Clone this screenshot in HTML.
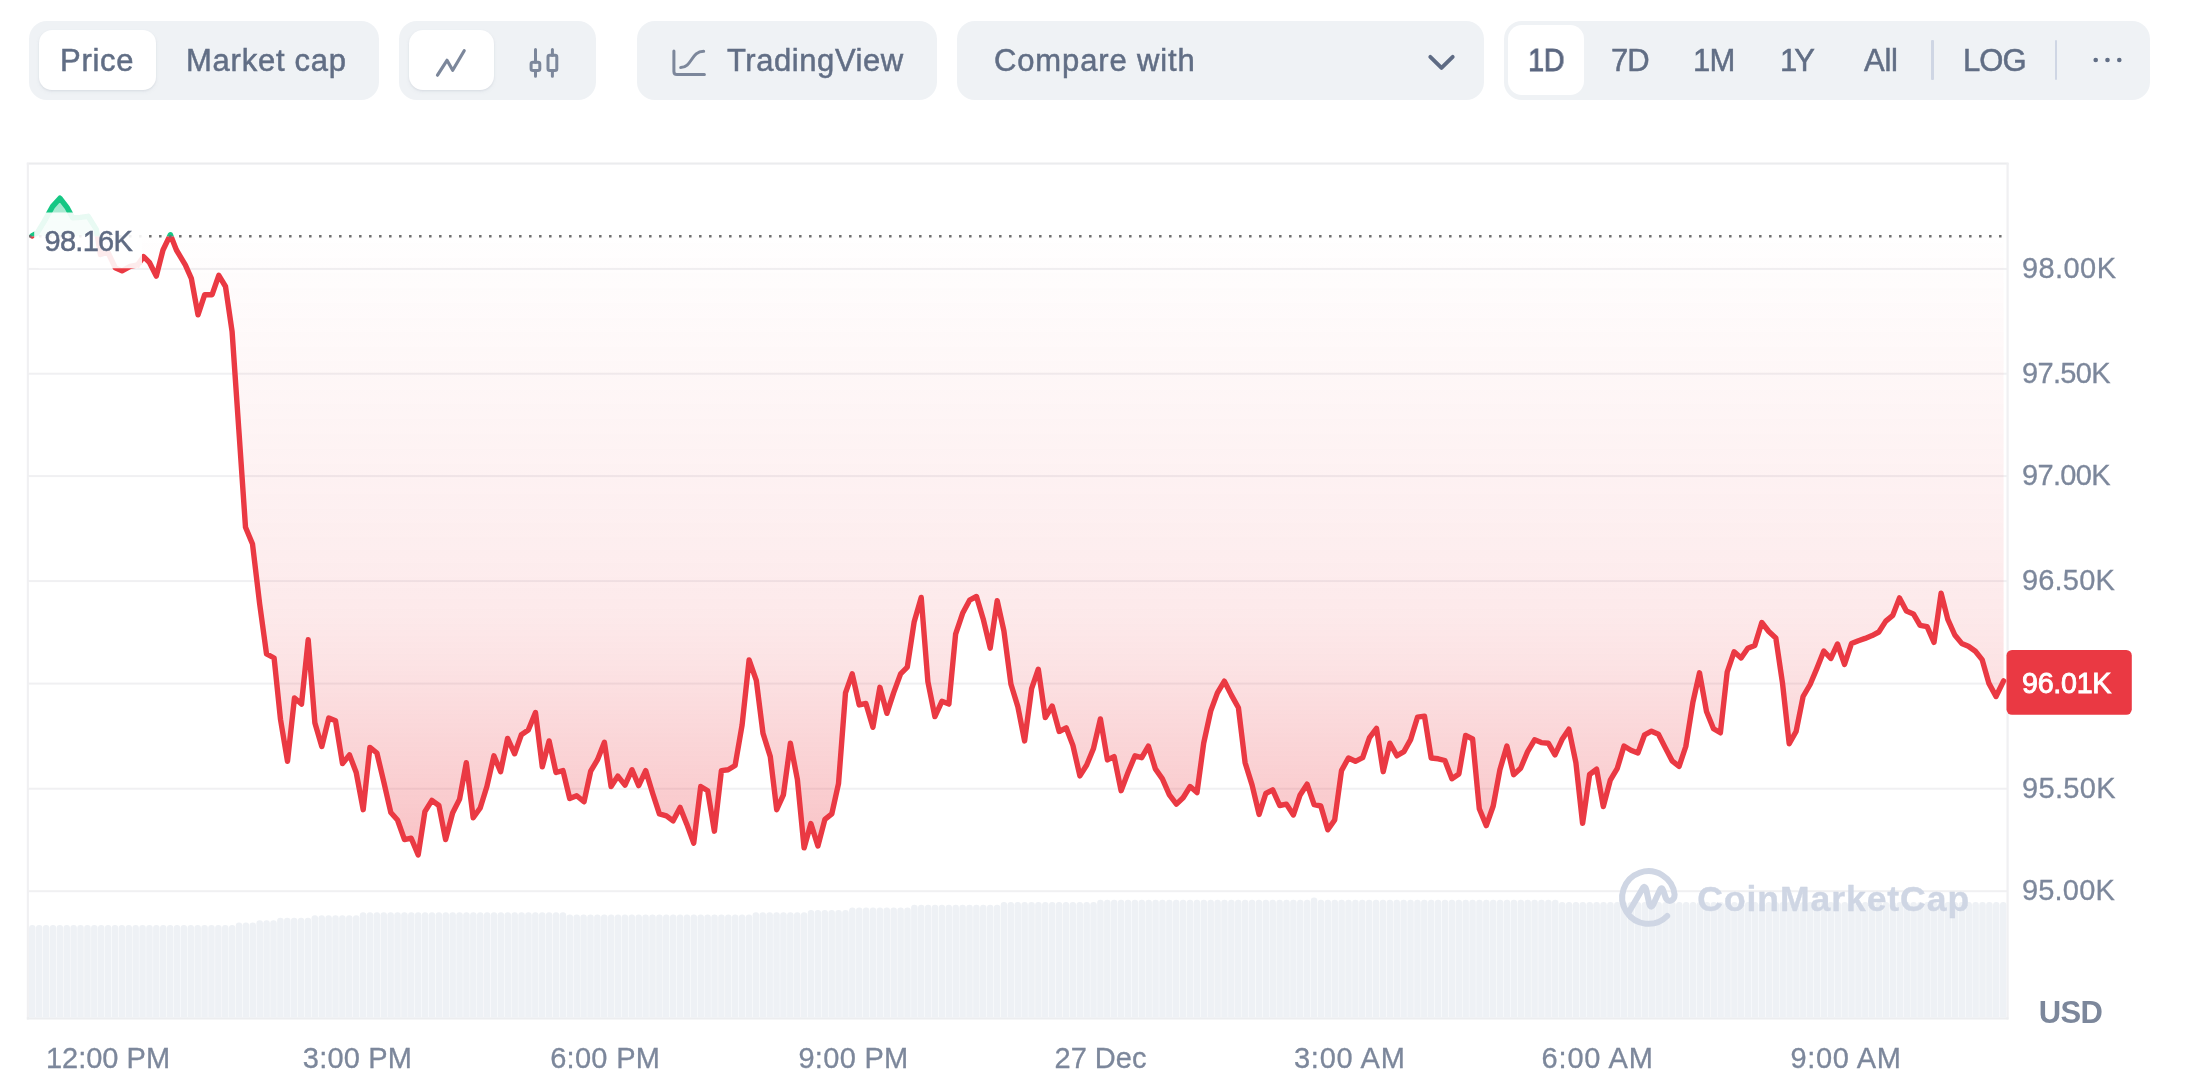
<!DOCTYPE html>
<html lang="en"><head><meta charset="utf-8"><title>Bitcoin price chart</title>
<style>
html,body{margin:0;padding:0;background:#fff;}
body{width:2185px;height:1074px;overflow:hidden;position:relative;font-family:"Liberation Sans",sans-serif;color:#616e85;}
.grp{position:absolute;top:21px;height:79px;background:#eff2f5;border-radius:18px;}
.pill{position:absolute;background:#fff;border-radius:13px;box-shadow:0 1px 2px rgba(128,138,157,.14),0 2px 4px rgba(128,138,157,.07);}
.t{will-change:transform;position:absolute;top:21px;height:79px;line-height:79px;font-size:31px;white-space:nowrap;color:#616e85;-webkit-text-stroke:.5px #616e85;}
.sep{position:absolute;top:40px;width:2.6px;height:40px;background:#cfd6e4;border-radius:1px;}
svg{position:absolute;left:0;top:0;will-change:transform;}
.ax{font-family:"Liberation Sans",sans-serif;font-size:29px;fill:#7c879b;stroke:#7c879b;stroke-width:.3px;}
</style></head><body>

<!-- toolbar -->
<div class="grp" style="left:29px;width:350px"></div>
<div class="pill" style="left:39px;top:29.6px;width:117px;height:60.7px"></div>
<div class="t" style="left:60.3px;letter-spacing:.7px">Price</div>
<div class="t" style="left:185.8px;letter-spacing:.75px">Market cap</div>

<div class="grp" style="left:399px;width:197px"></div>
<div class="pill" style="left:409px;top:29.6px;width:85px;height:60.7px;border-radius:14px"></div>

<div class="grp" style="left:637px;width:300px"></div>
<div class="t" style="left:726.8px;letter-spacing:.56px">TradingView</div>

<div class="grp" style="left:957px;width:527px"></div>
<div class="t" style="left:993.8px;letter-spacing:.87px">Compare with</div>

<div class="grp" style="left:1504px;width:646px"></div>
<div class="pill" style="left:1508px;top:25px;width:76px;height:70px;border-radius:14px;box-shadow:none"></div>
<div class="t" style="left:1528.3px;-webkit-text-stroke:.8px #5b6780;color:#5b6780;letter-spacing:-.6px;transform:scaleX(.935);transform-origin:0 50%">1D</div>
<div class="t" style="left:1610.5px;letter-spacing:-.9px">7D</div>
<div class="t" style="left:1693px;letter-spacing:-.8px">1M</div>
<div class="t" style="left:1780px;letter-spacing:-2.9px">1Y</div>
<div class="t" style="left:1864px;letter-spacing:-.3px">All</div>
<div class="sep" style="left:1931.4px"></div>
<div class="t" style="left:1962.5px;letter-spacing:-.95px">LOG</div>
<div class="sep" style="left:2054.6px"></div>

<svg width="2185" height="1074" viewBox="0 0 2185 1074">
<defs>
<linearGradient id="gr" gradientUnits="userSpaceOnUse" x1="0" y1="236" x2="0" y2="866">
<stop offset="0.0000" stop-color="#ea3943" stop-opacity="0.004"/>
<stop offset="0.1095" stop-color="#ea3943" stop-opacity="0.022"/>
<stop offset="0.2841" stop-color="#ea3943" stop-opacity="0.052"/>
<stop offset="0.4429" stop-color="#ea3943" stop-opacity="0.078"/>
<stop offset="0.5460" stop-color="#ea3943" stop-opacity="0.097"/>
<stop offset="0.6016" stop-color="#ea3943" stop-opacity="0.11"/>
<stop offset="0.6889" stop-color="#ea3943" stop-opacity="0.146"/>
<stop offset="0.7603" stop-color="#ea3943" stop-opacity="0.187"/>
<stop offset="0.8317" stop-color="#ea3943" stop-opacity="0.225"/>
<stop offset="0.8984" stop-color="#ea3943" stop-opacity="0.263"/>
<stop offset="1.0000" stop-color="#ea3943" stop-opacity="0.32"/>
</linearGradient>
<linearGradient id="gg" gradientUnits="userSpaceOnUse" x1="0" y1="195" x2="0" y2="236.3">
<stop offset="0" stop-color="#16c784" stop-opacity="0.42"/>
<stop offset="1" stop-color="#16c784" stop-opacity="0.30"/>
</linearGradient>
<clipPath id="volclip"><rect x="28" y="880" width="1980" height="137.3"/></clipPath>
<clipPath id="below"><rect x="0" y="236.3" width="2185" height="900"/></clipPath>
<clipPath id="above"><rect x="0" y="0" width="2185" height="236.3"/></clipPath>
<clipPath id="abovefill"><rect x="28" y="0" width="71.2" height="236.3"/><rect x="168" y="0" width="5" height="236.3"/></clipPath>
</defs>

<!-- toolbar icons -->
<g fill="none" stroke="#7c879b" stroke-width="3.2" stroke-linecap="round" stroke-linejoin="round">
<path d="M437.5 75.2 L447 60.3 L452.7 70.3 L464.2 50.7"/>
<path d="M673.9 51 V71.5 Q673.9 74.5 676.9 74.5 H704.4 M680.7 67.5 C692 67.5 691 51.3 703.7 51.3" stroke-width="3"/>
<path d="M1430.3 56.8 L1441.5 67.9 L1452.7 56.8" stroke="#5e6b84" stroke-width="3.9"/>
</g>
<g fill="none" stroke="#7c879b" stroke-width="3" stroke-linecap="round" stroke-linejoin="round">
<rect x="531.1" y="62.2" width="8.7" height="8.4" rx="1.8"/><path d="M535.5 49.5 V62.2 M535.5 70.6 V76.3"/>
<rect x="548" y="55.2" width="8.8" height="15.4" rx="1.8"/><path d="M552.4 49.5 V55.2 M552.4 70.6 V76.3"/>
</g>
<g fill="#616e85"><circle cx="2095.7" cy="60" r="2.3"/><circle cx="2107.5" cy="60" r="2.3"/><circle cx="2119.3" cy="60" r="2.3"/></g>

<!-- chart frame -->
<rect x="26.8" y="162.5" width="1981.7" height="2.1" fill="#ebecee"/>
<rect x="26.8" y="163" width="2.1" height="856.5" fill="#f0f0f2"/>
<rect x="2006.5" y="163" width="2.2" height="856.5" fill="#f0f0f2"/>
<rect x="26.8" y="1017.3" width="1981.7" height="2.2" fill="#ecedef"/>
<rect x="28" y="267.9" width="1980" height="2" fill="#f0f0f2"/>
<rect x="28" y="372.7" width="1980" height="2" fill="#f0f0f2"/>
<rect x="28" y="475.1" width="1980" height="2" fill="#f0f0f2"/>
<rect x="28" y="580.1" width="1980" height="2" fill="#f0f0f2"/>
<rect x="28" y="682.6" width="1980" height="2" fill="#f0f0f2"/>
<rect x="28" y="787.7" width="1980" height="2" fill="#f0f0f2"/>
<rect x="28" y="890.2" width="1980" height="2" fill="#f0f0f2"/>

<!-- volume -->
<g fill="#eef1f5" clip-path="url(#volclip)">
<rect x="29.05" y="924.9" width="6.49" height="99.3" rx="3.1"/>
<rect x="35.95" y="924.9" width="6.49" height="99.3" rx="3.1"/>
<rect x="42.84" y="924.9" width="6.49" height="99.3" rx="3.1"/>
<rect x="49.73" y="924.9" width="6.49" height="99.3" rx="3.1"/>
<rect x="56.62" y="924.9" width="6.49" height="99.3" rx="3.1"/>
<rect x="63.51" y="924.9" width="6.49" height="99.3" rx="3.1"/>
<rect x="70.40" y="924.9" width="6.49" height="99.3" rx="3.1"/>
<rect x="77.29" y="924.9" width="6.49" height="99.3" rx="3.1"/>
<rect x="84.18" y="924.9" width="6.49" height="99.3" rx="3.1"/>
<rect x="91.08" y="924.9" width="6.49" height="99.3" rx="3.1"/>
<rect x="97.97" y="924.9" width="6.49" height="99.3" rx="3.1"/>
<rect x="104.86" y="924.9" width="6.49" height="99.3" rx="3.1"/>
<rect x="111.75" y="924.9" width="6.49" height="99.3" rx="3.1"/>
<rect x="118.64" y="924.9" width="6.49" height="99.3" rx="3.1"/>
<rect x="125.53" y="924.9" width="6.49" height="99.3" rx="3.1"/>
<rect x="132.42" y="924.9" width="6.49" height="99.3" rx="3.1"/>
<rect x="139.31" y="924.9" width="6.49" height="99.3" rx="3.1"/>
<rect x="146.20" y="924.9" width="6.49" height="99.3" rx="3.1"/>
<rect x="153.10" y="924.9" width="6.49" height="99.3" rx="3.1"/>
<rect x="159.99" y="924.9" width="6.49" height="99.3" rx="3.1"/>
<rect x="166.88" y="924.9" width="6.49" height="99.3" rx="3.1"/>
<rect x="173.77" y="924.9" width="6.49" height="99.3" rx="3.1"/>
<rect x="180.66" y="924.9" width="6.49" height="99.3" rx="3.1"/>
<rect x="187.55" y="924.9" width="6.49" height="99.3" rx="3.1"/>
<rect x="194.44" y="924.9" width="6.49" height="99.3" rx="3.1"/>
<rect x="201.33" y="924.9" width="6.49" height="99.3" rx="3.1"/>
<rect x="208.23" y="924.9" width="6.49" height="99.3" rx="3.1"/>
<rect x="215.12" y="924.9" width="6.49" height="99.3" rx="3.1"/>
<rect x="222.01" y="924.9" width="6.49" height="99.3" rx="3.1"/>
<rect x="228.90" y="924.9" width="6.49" height="99.3" rx="3.1"/>
<rect x="235.79" y="922.5" width="6.49" height="101.7" rx="3.1"/>
<rect x="242.68" y="922.5" width="6.49" height="101.7" rx="3.1"/>
<rect x="249.57" y="922.5" width="6.49" height="101.7" rx="3.1"/>
<rect x="256.46" y="920.2" width="6.49" height="104.0" rx="3.1"/>
<rect x="263.36" y="920.2" width="6.49" height="104.0" rx="3.1"/>
<rect x="270.25" y="920.2" width="6.49" height="104.0" rx="3.1"/>
<rect x="277.14" y="917.7" width="6.49" height="106.5" rx="3.1"/>
<rect x="284.03" y="917.7" width="6.49" height="106.5" rx="3.1"/>
<rect x="290.92" y="917.7" width="6.49" height="106.5" rx="3.1"/>
<rect x="297.81" y="917.7" width="6.49" height="106.5" rx="3.1"/>
<rect x="304.70" y="917.7" width="6.49" height="106.5" rx="3.1"/>
<rect x="311.59" y="915.2" width="6.49" height="109.0" rx="3.1"/>
<rect x="318.48" y="915.2" width="6.49" height="109.0" rx="3.1"/>
<rect x="325.38" y="915.2" width="6.49" height="109.0" rx="3.1"/>
<rect x="332.27" y="915.2" width="6.49" height="109.0" rx="3.1"/>
<rect x="339.16" y="915.2" width="6.49" height="109.0" rx="3.1"/>
<rect x="346.05" y="915.2" width="6.49" height="109.0" rx="3.1"/>
<rect x="352.94" y="915.2" width="6.49" height="109.0" rx="3.1"/>
<rect x="359.83" y="912.2" width="6.49" height="112.0" rx="3.1"/>
<rect x="366.72" y="912.2" width="6.49" height="112.0" rx="3.1"/>
<rect x="373.61" y="912.2" width="6.49" height="112.0" rx="3.1"/>
<rect x="380.51" y="912.2" width="6.49" height="112.0" rx="3.1"/>
<rect x="387.40" y="912.2" width="6.49" height="112.0" rx="3.1"/>
<rect x="394.29" y="912.2" width="6.49" height="112.0" rx="3.1"/>
<rect x="401.18" y="912.2" width="6.49" height="112.0" rx="3.1"/>
<rect x="408.07" y="912.2" width="6.49" height="112.0" rx="3.1"/>
<rect x="414.96" y="912.2" width="6.49" height="112.0" rx="3.1"/>
<rect x="421.85" y="912.2" width="6.49" height="112.0" rx="3.1"/>
<rect x="428.74" y="912.2" width="6.49" height="112.0" rx="3.1"/>
<rect x="435.64" y="912.2" width="6.49" height="112.0" rx="3.1"/>
<rect x="442.53" y="912.2" width="6.49" height="112.0" rx="3.1"/>
<rect x="449.42" y="912.2" width="6.49" height="112.0" rx="3.1"/>
<rect x="456.31" y="912.2" width="6.49" height="112.0" rx="3.1"/>
<rect x="463.20" y="912.2" width="6.49" height="112.0" rx="3.1"/>
<rect x="470.09" y="912.2" width="6.49" height="112.0" rx="3.1"/>
<rect x="476.98" y="912.2" width="6.49" height="112.0" rx="3.1"/>
<rect x="483.87" y="912.2" width="6.49" height="112.0" rx="3.1"/>
<rect x="490.76" y="912.2" width="6.49" height="112.0" rx="3.1"/>
<rect x="497.66" y="912.2" width="6.49" height="112.0" rx="3.1"/>
<rect x="504.55" y="912.2" width="6.49" height="112.0" rx="3.1"/>
<rect x="511.44" y="912.2" width="6.49" height="112.0" rx="3.1"/>
<rect x="518.33" y="912.2" width="6.49" height="112.0" rx="3.1"/>
<rect x="525.22" y="912.2" width="6.49" height="112.0" rx="3.1"/>
<rect x="532.11" y="912.2" width="6.49" height="112.0" rx="3.1"/>
<rect x="539.00" y="912.2" width="6.49" height="112.0" rx="3.1"/>
<rect x="545.89" y="912.2" width="6.49" height="112.0" rx="3.1"/>
<rect x="552.79" y="912.2" width="6.49" height="112.0" rx="3.1"/>
<rect x="559.68" y="912.2" width="6.49" height="112.0" rx="3.1"/>
<rect x="566.57" y="914.5" width="6.49" height="109.7" rx="3.1"/>
<rect x="573.46" y="914.5" width="6.49" height="109.7" rx="3.1"/>
<rect x="580.35" y="914.5" width="6.49" height="109.7" rx="3.1"/>
<rect x="587.24" y="914.5" width="6.49" height="109.7" rx="3.1"/>
<rect x="594.13" y="914.5" width="6.49" height="109.7" rx="3.1"/>
<rect x="601.02" y="914.5" width="6.49" height="109.7" rx="3.1"/>
<rect x="607.92" y="914.5" width="6.49" height="109.7" rx="3.1"/>
<rect x="614.81" y="914.5" width="6.49" height="109.7" rx="3.1"/>
<rect x="621.70" y="914.5" width="6.49" height="109.7" rx="3.1"/>
<rect x="628.59" y="914.5" width="6.49" height="109.7" rx="3.1"/>
<rect x="635.48" y="914.5" width="6.49" height="109.7" rx="3.1"/>
<rect x="642.37" y="914.5" width="6.49" height="109.7" rx="3.1"/>
<rect x="649.26" y="914.5" width="6.49" height="109.7" rx="3.1"/>
<rect x="656.15" y="914.5" width="6.49" height="109.7" rx="3.1"/>
<rect x="663.04" y="914.5" width="6.49" height="109.7" rx="3.1"/>
<rect x="669.94" y="914.5" width="6.49" height="109.7" rx="3.1"/>
<rect x="676.83" y="914.5" width="6.49" height="109.7" rx="3.1"/>
<rect x="683.72" y="914.5" width="6.49" height="109.7" rx="3.1"/>
<rect x="690.61" y="914.5" width="6.49" height="109.7" rx="3.1"/>
<rect x="697.50" y="914.5" width="6.49" height="109.7" rx="3.1"/>
<rect x="704.39" y="914.5" width="6.49" height="109.7" rx="3.1"/>
<rect x="711.28" y="914.5" width="6.49" height="109.7" rx="3.1"/>
<rect x="718.17" y="914.5" width="6.49" height="109.7" rx="3.1"/>
<rect x="725.07" y="914.5" width="6.49" height="109.7" rx="3.1"/>
<rect x="731.96" y="914.5" width="6.49" height="109.7" rx="3.1"/>
<rect x="738.85" y="914.5" width="6.49" height="109.7" rx="3.1"/>
<rect x="745.74" y="914.5" width="6.49" height="109.7" rx="3.1"/>
<rect x="752.63" y="912.2" width="6.49" height="112.0" rx="3.1"/>
<rect x="759.52" y="912.2" width="6.49" height="112.0" rx="3.1"/>
<rect x="766.41" y="912.2" width="6.49" height="112.0" rx="3.1"/>
<rect x="773.30" y="912.2" width="6.49" height="112.0" rx="3.1"/>
<rect x="780.20" y="912.2" width="6.49" height="112.0" rx="3.1"/>
<rect x="787.09" y="912.2" width="6.49" height="112.0" rx="3.1"/>
<rect x="793.98" y="912.2" width="6.49" height="112.0" rx="3.1"/>
<rect x="800.87" y="912.2" width="6.49" height="112.0" rx="3.1"/>
<rect x="807.76" y="909.9" width="6.49" height="114.3" rx="3.1"/>
<rect x="814.65" y="909.9" width="6.49" height="114.3" rx="3.1"/>
<rect x="821.54" y="909.9" width="6.49" height="114.3" rx="3.1"/>
<rect x="828.43" y="909.9" width="6.49" height="114.3" rx="3.1"/>
<rect x="835.32" y="909.9" width="6.49" height="114.3" rx="3.1"/>
<rect x="842.22" y="909.9" width="6.49" height="114.3" rx="3.1"/>
<rect x="849.11" y="907.6" width="6.49" height="116.6" rx="3.1"/>
<rect x="856.00" y="907.6" width="6.49" height="116.6" rx="3.1"/>
<rect x="862.89" y="907.6" width="6.49" height="116.6" rx="3.1"/>
<rect x="869.78" y="907.6" width="6.49" height="116.6" rx="3.1"/>
<rect x="876.67" y="907.6" width="6.49" height="116.6" rx="3.1"/>
<rect x="883.56" y="907.6" width="6.49" height="116.6" rx="3.1"/>
<rect x="890.45" y="907.6" width="6.49" height="116.6" rx="3.1"/>
<rect x="897.35" y="907.6" width="6.49" height="116.6" rx="3.1"/>
<rect x="904.24" y="907.6" width="6.49" height="116.6" rx="3.1"/>
<rect x="911.13" y="904.8" width="6.49" height="119.4" rx="3.1"/>
<rect x="918.02" y="904.8" width="6.49" height="119.4" rx="3.1"/>
<rect x="924.91" y="904.8" width="6.49" height="119.4" rx="3.1"/>
<rect x="931.80" y="904.8" width="6.49" height="119.4" rx="3.1"/>
<rect x="938.69" y="904.8" width="6.49" height="119.4" rx="3.1"/>
<rect x="945.58" y="904.8" width="6.49" height="119.4" rx="3.1"/>
<rect x="952.48" y="904.8" width="6.49" height="119.4" rx="3.1"/>
<rect x="959.37" y="904.8" width="6.49" height="119.4" rx="3.1"/>
<rect x="966.26" y="904.8" width="6.49" height="119.4" rx="3.1"/>
<rect x="973.15" y="904.8" width="6.49" height="119.4" rx="3.1"/>
<rect x="980.04" y="904.8" width="6.49" height="119.4" rx="3.1"/>
<rect x="986.93" y="904.8" width="6.49" height="119.4" rx="3.1"/>
<rect x="993.82" y="904.8" width="6.49" height="119.4" rx="3.1"/>
<rect x="1000.71" y="902.1" width="6.49" height="122.1" rx="3.1"/>
<rect x="1007.60" y="902.1" width="6.49" height="122.1" rx="3.1"/>
<rect x="1014.50" y="902.1" width="6.49" height="122.1" rx="3.1"/>
<rect x="1021.39" y="902.1" width="6.49" height="122.1" rx="3.1"/>
<rect x="1028.28" y="902.1" width="6.49" height="122.1" rx="3.1"/>
<rect x="1035.17" y="902.1" width="6.49" height="122.1" rx="3.1"/>
<rect x="1042.06" y="902.1" width="6.49" height="122.1" rx="3.1"/>
<rect x="1048.95" y="902.1" width="6.49" height="122.1" rx="3.1"/>
<rect x="1055.84" y="902.1" width="6.49" height="122.1" rx="3.1"/>
<rect x="1062.73" y="902.1" width="6.49" height="122.1" rx="3.1"/>
<rect x="1069.63" y="902.1" width="6.49" height="122.1" rx="3.1"/>
<rect x="1076.52" y="902.1" width="6.49" height="122.1" rx="3.1"/>
<rect x="1083.41" y="902.1" width="6.49" height="122.1" rx="3.1"/>
<rect x="1090.30" y="902.1" width="6.49" height="122.1" rx="3.1"/>
<rect x="1097.19" y="899.8" width="6.49" height="124.4" rx="3.1"/>
<rect x="1104.08" y="899.8" width="6.49" height="124.4" rx="3.1"/>
<rect x="1110.97" y="899.8" width="6.49" height="124.4" rx="3.1"/>
<rect x="1117.86" y="899.8" width="6.49" height="124.4" rx="3.1"/>
<rect x="1124.76" y="899.8" width="6.49" height="124.4" rx="3.1"/>
<rect x="1131.65" y="899.8" width="6.49" height="124.4" rx="3.1"/>
<rect x="1138.54" y="899.8" width="6.49" height="124.4" rx="3.1"/>
<rect x="1145.43" y="899.8" width="6.49" height="124.4" rx="3.1"/>
<rect x="1152.32" y="899.8" width="6.49" height="124.4" rx="3.1"/>
<rect x="1159.21" y="899.8" width="6.49" height="124.4" rx="3.1"/>
<rect x="1166.10" y="899.8" width="6.49" height="124.4" rx="3.1"/>
<rect x="1172.99" y="899.8" width="6.49" height="124.4" rx="3.1"/>
<rect x="1179.88" y="899.8" width="6.49" height="124.4" rx="3.1"/>
<rect x="1186.78" y="899.8" width="6.49" height="124.4" rx="3.1"/>
<rect x="1193.67" y="899.8" width="6.49" height="124.4" rx="3.1"/>
<rect x="1200.56" y="899.8" width="6.49" height="124.4" rx="3.1"/>
<rect x="1207.45" y="899.8" width="6.49" height="124.4" rx="3.1"/>
<rect x="1214.34" y="899.8" width="6.49" height="124.4" rx="3.1"/>
<rect x="1221.23" y="899.8" width="6.49" height="124.4" rx="3.1"/>
<rect x="1228.12" y="899.8" width="6.49" height="124.4" rx="3.1"/>
<rect x="1235.01" y="899.8" width="6.49" height="124.4" rx="3.1"/>
<rect x="1241.91" y="899.8" width="6.49" height="124.4" rx="3.1"/>
<rect x="1248.80" y="899.8" width="6.49" height="124.4" rx="3.1"/>
<rect x="1255.69" y="899.8" width="6.49" height="124.4" rx="3.1"/>
<rect x="1262.58" y="899.8" width="6.49" height="124.4" rx="3.1"/>
<rect x="1269.47" y="899.8" width="6.49" height="124.4" rx="3.1"/>
<rect x="1276.36" y="899.8" width="6.49" height="124.4" rx="3.1"/>
<rect x="1283.25" y="899.8" width="6.49" height="124.4" rx="3.1"/>
<rect x="1290.14" y="899.8" width="6.49" height="124.4" rx="3.1"/>
<rect x="1297.04" y="899.8" width="6.49" height="124.4" rx="3.1"/>
<rect x="1303.93" y="899.8" width="6.49" height="124.4" rx="3.1"/>
<rect x="1310.82" y="897.5" width="6.49" height="126.7" rx="3.1"/>
<rect x="1317.71" y="899.8" width="6.49" height="124.4" rx="3.1"/>
<rect x="1324.60" y="899.8" width="6.49" height="124.4" rx="3.1"/>
<rect x="1331.49" y="899.8" width="6.49" height="124.4" rx="3.1"/>
<rect x="1338.38" y="899.8" width="6.49" height="124.4" rx="3.1"/>
<rect x="1345.27" y="899.8" width="6.49" height="124.4" rx="3.1"/>
<rect x="1352.16" y="899.8" width="6.49" height="124.4" rx="3.1"/>
<rect x="1359.06" y="899.8" width="6.49" height="124.4" rx="3.1"/>
<rect x="1365.95" y="899.8" width="6.49" height="124.4" rx="3.1"/>
<rect x="1372.84" y="899.8" width="6.49" height="124.4" rx="3.1"/>
<rect x="1379.73" y="899.8" width="6.49" height="124.4" rx="3.1"/>
<rect x="1386.62" y="899.8" width="6.49" height="124.4" rx="3.1"/>
<rect x="1393.51" y="899.8" width="6.49" height="124.4" rx="3.1"/>
<rect x="1400.40" y="899.8" width="6.49" height="124.4" rx="3.1"/>
<rect x="1407.29" y="899.8" width="6.49" height="124.4" rx="3.1"/>
<rect x="1414.19" y="899.8" width="6.49" height="124.4" rx="3.1"/>
<rect x="1421.08" y="899.8" width="6.49" height="124.4" rx="3.1"/>
<rect x="1427.97" y="899.8" width="6.49" height="124.4" rx="3.1"/>
<rect x="1434.86" y="899.8" width="6.49" height="124.4" rx="3.1"/>
<rect x="1441.75" y="899.8" width="6.49" height="124.4" rx="3.1"/>
<rect x="1448.64" y="899.8" width="6.49" height="124.4" rx="3.1"/>
<rect x="1455.53" y="899.8" width="6.49" height="124.4" rx="3.1"/>
<rect x="1462.42" y="899.8" width="6.49" height="124.4" rx="3.1"/>
<rect x="1469.32" y="899.8" width="6.49" height="124.4" rx="3.1"/>
<rect x="1476.21" y="899.8" width="6.49" height="124.4" rx="3.1"/>
<rect x="1483.10" y="899.8" width="6.49" height="124.4" rx="3.1"/>
<rect x="1489.99" y="899.8" width="6.49" height="124.4" rx="3.1"/>
<rect x="1496.88" y="899.8" width="6.49" height="124.4" rx="3.1"/>
<rect x="1503.77" y="899.8" width="6.49" height="124.4" rx="3.1"/>
<rect x="1510.66" y="899.8" width="6.49" height="124.4" rx="3.1"/>
<rect x="1517.55" y="899.8" width="6.49" height="124.4" rx="3.1"/>
<rect x="1524.44" y="899.8" width="6.49" height="124.4" rx="3.1"/>
<rect x="1531.34" y="899.8" width="6.49" height="124.4" rx="3.1"/>
<rect x="1538.23" y="899.8" width="6.49" height="124.4" rx="3.1"/>
<rect x="1545.12" y="899.8" width="6.49" height="124.4" rx="3.1"/>
<rect x="1552.01" y="899.8" width="6.49" height="124.4" rx="3.1"/>
<rect x="1558.90" y="902.1" width="6.49" height="122.1" rx="3.1"/>
<rect x="1565.79" y="902.1" width="6.49" height="122.1" rx="3.1"/>
<rect x="1572.68" y="902.1" width="6.49" height="122.1" rx="3.1"/>
<rect x="1579.57" y="902.1" width="6.49" height="122.1" rx="3.1"/>
<rect x="1586.47" y="902.1" width="6.49" height="122.1" rx="3.1"/>
<rect x="1593.36" y="902.1" width="6.49" height="122.1" rx="3.1"/>
<rect x="1600.25" y="902.1" width="6.49" height="122.1" rx="3.1"/>
<rect x="1607.14" y="902.1" width="6.49" height="122.1" rx="3.1"/>
<rect x="1614.03" y="902.1" width="6.49" height="122.1" rx="3.1"/>
<rect x="1620.92" y="902.1" width="6.49" height="122.1" rx="3.1"/>
<rect x="1627.81" y="902.1" width="6.49" height="122.1" rx="3.1"/>
<rect x="1634.70" y="902.1" width="6.49" height="122.1" rx="3.1"/>
<rect x="1641.60" y="902.1" width="6.49" height="122.1" rx="3.1"/>
<rect x="1648.49" y="902.1" width="6.49" height="122.1" rx="3.1"/>
<rect x="1655.38" y="902.1" width="6.49" height="122.1" rx="3.1"/>
<rect x="1662.27" y="902.1" width="6.49" height="122.1" rx="3.1"/>
<rect x="1669.16" y="902.1" width="6.49" height="122.1" rx="3.1"/>
<rect x="1676.05" y="902.1" width="6.49" height="122.1" rx="3.1"/>
<rect x="1682.94" y="902.1" width="6.49" height="122.1" rx="3.1"/>
<rect x="1689.83" y="902.1" width="6.49" height="122.1" rx="3.1"/>
<rect x="1696.72" y="902.1" width="6.49" height="122.1" rx="3.1"/>
<rect x="1703.62" y="902.1" width="6.49" height="122.1" rx="3.1"/>
<rect x="1710.51" y="902.1" width="6.49" height="122.1" rx="3.1"/>
<rect x="1717.40" y="902.1" width="6.49" height="122.1" rx="3.1"/>
<rect x="1724.29" y="902.1" width="6.49" height="122.1" rx="3.1"/>
<rect x="1731.18" y="902.1" width="6.49" height="122.1" rx="3.1"/>
<rect x="1738.07" y="902.1" width="6.49" height="122.1" rx="3.1"/>
<rect x="1744.96" y="902.1" width="6.49" height="122.1" rx="3.1"/>
<rect x="1751.85" y="902.1" width="6.49" height="122.1" rx="3.1"/>
<rect x="1758.75" y="902.1" width="6.49" height="122.1" rx="3.1"/>
<rect x="1765.64" y="902.1" width="6.49" height="122.1" rx="3.1"/>
<rect x="1772.53" y="902.1" width="6.49" height="122.1" rx="3.1"/>
<rect x="1779.42" y="902.1" width="6.49" height="122.1" rx="3.1"/>
<rect x="1786.31" y="902.1" width="6.49" height="122.1" rx="3.1"/>
<rect x="1793.20" y="902.1" width="6.49" height="122.1" rx="3.1"/>
<rect x="1800.09" y="902.1" width="6.49" height="122.1" rx="3.1"/>
<rect x="1806.98" y="902.1" width="6.49" height="122.1" rx="3.1"/>
<rect x="1813.88" y="902.1" width="6.49" height="122.1" rx="3.1"/>
<rect x="1820.77" y="902.1" width="6.49" height="122.1" rx="3.1"/>
<rect x="1827.66" y="902.1" width="6.49" height="122.1" rx="3.1"/>
<rect x="1834.55" y="902.1" width="6.49" height="122.1" rx="3.1"/>
<rect x="1841.44" y="902.1" width="6.49" height="122.1" rx="3.1"/>
<rect x="1848.33" y="902.1" width="6.49" height="122.1" rx="3.1"/>
<rect x="1855.22" y="902.1" width="6.49" height="122.1" rx="3.1"/>
<rect x="1862.11" y="902.1" width="6.49" height="122.1" rx="3.1"/>
<rect x="1869.00" y="902.1" width="6.49" height="122.1" rx="3.1"/>
<rect x="1875.90" y="902.1" width="6.49" height="122.1" rx="3.1"/>
<rect x="1882.79" y="902.1" width="6.49" height="122.1" rx="3.1"/>
<rect x="1889.68" y="902.1" width="6.49" height="122.1" rx="3.1"/>
<rect x="1896.57" y="902.1" width="6.49" height="122.1" rx="3.1"/>
<rect x="1903.46" y="902.1" width="6.49" height="122.1" rx="3.1"/>
<rect x="1910.35" y="902.1" width="6.49" height="122.1" rx="3.1"/>
<rect x="1917.24" y="902.1" width="6.49" height="122.1" rx="3.1"/>
<rect x="1924.13" y="902.1" width="6.49" height="122.1" rx="3.1"/>
<rect x="1931.03" y="902.1" width="6.49" height="122.1" rx="3.1"/>
<rect x="1937.92" y="902.1" width="6.49" height="122.1" rx="3.1"/>
<rect x="1944.81" y="902.1" width="6.49" height="122.1" rx="3.1"/>
<rect x="1951.70" y="902.1" width="6.49" height="122.1" rx="3.1"/>
<rect x="1958.59" y="902.1" width="6.49" height="122.1" rx="3.1"/>
<rect x="1965.48" y="902.1" width="6.49" height="122.1" rx="3.1"/>
<rect x="1972.37" y="902.1" width="6.49" height="122.1" rx="3.1"/>
<rect x="1979.26" y="902.1" width="6.49" height="122.1" rx="3.1"/>
<rect x="1986.16" y="902.1" width="6.49" height="122.1" rx="3.1"/>
<rect x="1993.05" y="902.1" width="6.49" height="122.1" rx="3.1"/>
<rect x="1999.94" y="902.1" width="6.49" height="122.1" rx="3.1"/>
</g>

<!-- area fills -->
<path d="M32.1 235.9 L37.4 232.7 L44.1 221.6 L52.6 206.4 L59.9 198.2 L67.4 207.9 L72.6 217.8 L80.3 217.4 L88.1 216.3 L96.3 229.4 L100.4 254.5 L107.9 252.2 L115.3 267.9 L122.0 270.9 L130.2 266.4 L137.7 264.9 L143.6 256.7 L149.6 262.7 L156.3 276.1 L163.0 250.0 L170.4 234.7 L176.4 250.0 L185.3 264.9 L191.3 278.3 L198.0 314.8 L204.7 294.7 L212.1 294.7 L218.8 275.3 L225.5 286.5 L232.1 331.7 L238.8 429.4 L245.5 527.2 L252.5 544.0 L259.6 603.5 L266.5 653.8 L274.1 658.0 L280.5 719.4 L287.5 761.3 L294.5 697.9 L301.5 704.1 L308.2 639.8 L314.9 723.1 L321.8 746.5 L328.8 718.0 L335.5 720.8 L342.5 763.6 L349.5 754.9 L356.2 772.5 L363.2 809.7 L369.9 747.4 L376.9 753.0 L383.9 782.3 L390.8 812.5 L397.5 820.0 L404.5 839.6 L411.2 838.2 L418.2 854.9 L424.9 811.6 L431.9 800.4 L438.9 805.5 L445.6 839.6 L452.6 813.0 L459.6 799.1 L466.3 762.7 L473.2 817.8 L480.2 808.0 L486.9 786.5 L493.9 755.8 L500.6 771.7 L507.6 738.4 L514.6 753.8 L521.3 734.8 L528.3 730.1 L535.5 712.5 L542.3 766.9 L549.1 740.9 L556.0 772.5 L563.0 770.6 L569.7 798.5 L576.7 795.7 L584.0 801.8 L590.7 771.1 L597.4 759.9 L604.4 742.3 L611.1 786.5 L617.8 776.1 L625.0 785.1 L632.0 769.7 L638.7 785.6 L645.7 770.6 L652.7 793.5 L659.4 813.9 L666.4 815.8 L673.1 820.8 L680.1 807.4 L686.8 824.2 L693.7 843.2 L700.7 786.5 L707.7 790.7 L714.4 831.2 L721.4 770.6 L728.1 769.7 L735.1 765.5 L742.1 725.0 L749.1 659.9 L756.3 680.3 L763.0 733.4 L770.3 756.6 L776.7 809.7 L783.4 794.9 L790.4 743.2 L797.4 779.5 L804.1 847.9 L810.9 823.6 L817.9 846.0 L824.9 819.4 L831.8 813.9 L838.5 783.7 L845.5 692.9 L852.2 673.9 L859.2 704.9 L865.9 703.5 L872.9 727.3 L879.9 687.3 L886.9 713.3 L893.6 692.9 L900.6 673.9 L907.3 667.2 L914.2 621.7 L921.2 597.4 L927.9 681.7 L934.9 716.6 L941.9 701.3 L948.9 704.1 L955.6 634.2 L962.6 613.3 L969.6 600.2 L976.5 596.5 L983.2 618.9 L990.2 648.2 L997.2 600.7 L1003.9 630.9 L1010.9 684.0 L1017.9 706.9 L1024.6 740.9 L1031.6 688.7 L1038.3 669.2 L1045.3 717.5 L1052.2 706.0 L1059.2 731.5 L1066.2 727.8 L1072.9 745.4 L1079.9 775.9 L1086.7 765.0 L1093.4 748.8 L1100.4 718.9 L1107.4 759.9 L1114.1 756.6 L1121.1 790.7 L1128.0 772.5 L1135.0 755.8 L1141.7 757.7 L1148.4 746.0 L1155.4 768.9 L1162.4 778.9 L1169.4 794.9 L1176.4 804.1 L1183.1 797.7 L1190.1 786.5 L1197.0 792.6 L1203.7 743.2 L1210.7 711.1 L1217.4 692.9 L1224.4 681.2 L1231.4 695.1 L1238.4 707.7 L1245.1 762.7 L1252.1 785.1 L1259.1 814.4 L1265.8 793.5 L1272.7 789.8 L1279.7 805.5 L1286.4 804.1 L1293.4 815.0 L1300.1 794.9 L1307.1 784.2 L1314.1 804.6 L1320.8 806.0 L1327.8 829.8 L1334.7 820.0 L1341.5 770.6 L1348.4 758.0 L1355.4 761.3 L1362.7 757.7 L1369.5 737.6 L1376.5 728.4 L1383.2 771.7 L1389.9 743.2 L1396.9 755.8 L1403.9 751.6 L1410.6 739.6 L1417.5 717.2 L1424.5 716.1 L1431.2 758.0 L1438.2 758.8 L1444.9 760.5 L1451.9 778.7 L1458.9 773.9 L1465.6 735.4 L1472.6 739.0 L1479.3 808.8 L1486.3 825.6 L1493.2 806.0 L1499.9 769.7 L1506.9 746.0 L1513.6 774.7 L1520.6 768.3 L1527.6 751.6 L1534.6 739.8 L1541.3 742.6 L1548.3 743.2 L1555.0 754.9 L1562.0 739.6 L1568.9 729.2 L1575.9 762.7 L1582.6 823.4 L1589.6 774.5 L1596.6 769.2 L1603.3 806.6 L1610.3 780.1 L1617.3 768.3 L1624.0 746.0 L1630.9 750.2 L1637.9 753.0 L1644.6 734.8 L1651.5 731.2 L1658.4 734.2 L1665.1 747.4 L1672.1 760.8 L1679.1 766.4 L1685.8 746.5 L1692.8 702.7 L1699.5 672.8 L1706.5 711.6 L1713.5 728.7 L1720.4 732.8 L1727.2 672.0 L1734.1 651.8 L1741.1 658.0 L1747.8 648.2 L1754.8 645.4 L1761.8 622.5 L1768.8 631.5 L1775.8 637.9 L1782.5 683.1 L1789.2 743.7 L1796.1 731.5 L1803.1 696.5 L1810.1 684.5 L1816.8 668.6 L1823.8 651.0 L1830.8 658.5 L1837.5 644.0 L1844.5 664.4 L1851.5 643.5 L1858.4 640.7 L1865.1 638.4 L1872.1 635.6 L1878.8 632.0 L1885.8 621.1 L1892.8 615.3 L1899.5 597.9 L1906.4 611.1 L1913.4 613.9 L1920.1 625.3 L1927.1 626.6 L1934.0 642.4 L1941.1 593.1 L1947.8 619.4 L1954.8 635.0 L1961.7 643.4 L1968.4 646.2 L1975.4 651.3 L1982.1 659.6 L1988.8 683.1 L1996.0 696.5 L2003.6 680.9 L2003.6 236.3 L32.1 236.3 Z" fill="url(#gr)" clip-path="url(#below)"/>
<path d="M32.1 235.9 L37.4 232.7 L44.1 221.6 L52.6 206.4 L59.9 198.2 L67.4 207.9 L72.6 217.8 L80.3 217.4 L88.1 216.3 L96.3 229.4 L100.4 254.5 L107.9 252.2 L115.3 267.9 L122.0 270.9 L130.2 266.4 L137.7 264.9 L143.6 256.7 L149.6 262.7 L156.3 276.1 L163.0 250.0 L170.4 234.7 L176.4 250.0 L185.3 264.9 L191.3 278.3 L198.0 314.8 L204.7 294.7 L212.1 294.7 L218.8 275.3 L225.5 286.5 L232.1 331.7 L238.8 429.4 L245.5 527.2 L252.5 544.0 L259.6 603.5 L266.5 653.8 L274.1 658.0 L280.5 719.4 L287.5 761.3 L294.5 697.9 L301.5 704.1 L308.2 639.8 L314.9 723.1 L321.8 746.5 L328.8 718.0 L335.5 720.8 L342.5 763.6 L349.5 754.9 L356.2 772.5 L363.2 809.7 L369.9 747.4 L376.9 753.0 L383.9 782.3 L390.8 812.5 L397.5 820.0 L404.5 839.6 L411.2 838.2 L418.2 854.9 L424.9 811.6 L431.9 800.4 L438.9 805.5 L445.6 839.6 L452.6 813.0 L459.6 799.1 L466.3 762.7 L473.2 817.8 L480.2 808.0 L486.9 786.5 L493.9 755.8 L500.6 771.7 L507.6 738.4 L514.6 753.8 L521.3 734.8 L528.3 730.1 L535.5 712.5 L542.3 766.9 L549.1 740.9 L556.0 772.5 L563.0 770.6 L569.7 798.5 L576.7 795.7 L584.0 801.8 L590.7 771.1 L597.4 759.9 L604.4 742.3 L611.1 786.5 L617.8 776.1 L625.0 785.1 L632.0 769.7 L638.7 785.6 L645.7 770.6 L652.7 793.5 L659.4 813.9 L666.4 815.8 L673.1 820.8 L680.1 807.4 L686.8 824.2 L693.7 843.2 L700.7 786.5 L707.7 790.7 L714.4 831.2 L721.4 770.6 L728.1 769.7 L735.1 765.5 L742.1 725.0 L749.1 659.9 L756.3 680.3 L763.0 733.4 L770.3 756.6 L776.7 809.7 L783.4 794.9 L790.4 743.2 L797.4 779.5 L804.1 847.9 L810.9 823.6 L817.9 846.0 L824.9 819.4 L831.8 813.9 L838.5 783.7 L845.5 692.9 L852.2 673.9 L859.2 704.9 L865.9 703.5 L872.9 727.3 L879.9 687.3 L886.9 713.3 L893.6 692.9 L900.6 673.9 L907.3 667.2 L914.2 621.7 L921.2 597.4 L927.9 681.7 L934.9 716.6 L941.9 701.3 L948.9 704.1 L955.6 634.2 L962.6 613.3 L969.6 600.2 L976.5 596.5 L983.2 618.9 L990.2 648.2 L997.2 600.7 L1003.9 630.9 L1010.9 684.0 L1017.9 706.9 L1024.6 740.9 L1031.6 688.7 L1038.3 669.2 L1045.3 717.5 L1052.2 706.0 L1059.2 731.5 L1066.2 727.8 L1072.9 745.4 L1079.9 775.9 L1086.7 765.0 L1093.4 748.8 L1100.4 718.9 L1107.4 759.9 L1114.1 756.6 L1121.1 790.7 L1128.0 772.5 L1135.0 755.8 L1141.7 757.7 L1148.4 746.0 L1155.4 768.9 L1162.4 778.9 L1169.4 794.9 L1176.4 804.1 L1183.1 797.7 L1190.1 786.5 L1197.0 792.6 L1203.7 743.2 L1210.7 711.1 L1217.4 692.9 L1224.4 681.2 L1231.4 695.1 L1238.4 707.7 L1245.1 762.7 L1252.1 785.1 L1259.1 814.4 L1265.8 793.5 L1272.7 789.8 L1279.7 805.5 L1286.4 804.1 L1293.4 815.0 L1300.1 794.9 L1307.1 784.2 L1314.1 804.6 L1320.8 806.0 L1327.8 829.8 L1334.7 820.0 L1341.5 770.6 L1348.4 758.0 L1355.4 761.3 L1362.7 757.7 L1369.5 737.6 L1376.5 728.4 L1383.2 771.7 L1389.9 743.2 L1396.9 755.8 L1403.9 751.6 L1410.6 739.6 L1417.5 717.2 L1424.5 716.1 L1431.2 758.0 L1438.2 758.8 L1444.9 760.5 L1451.9 778.7 L1458.9 773.9 L1465.6 735.4 L1472.6 739.0 L1479.3 808.8 L1486.3 825.6 L1493.2 806.0 L1499.9 769.7 L1506.9 746.0 L1513.6 774.7 L1520.6 768.3 L1527.6 751.6 L1534.6 739.8 L1541.3 742.6 L1548.3 743.2 L1555.0 754.9 L1562.0 739.6 L1568.9 729.2 L1575.9 762.7 L1582.6 823.4 L1589.6 774.5 L1596.6 769.2 L1603.3 806.6 L1610.3 780.1 L1617.3 768.3 L1624.0 746.0 L1630.9 750.2 L1637.9 753.0 L1644.6 734.8 L1651.5 731.2 L1658.4 734.2 L1665.1 747.4 L1672.1 760.8 L1679.1 766.4 L1685.8 746.5 L1692.8 702.7 L1699.5 672.8 L1706.5 711.6 L1713.5 728.7 L1720.4 732.8 L1727.2 672.0 L1734.1 651.8 L1741.1 658.0 L1747.8 648.2 L1754.8 645.4 L1761.8 622.5 L1768.8 631.5 L1775.8 637.9 L1782.5 683.1 L1789.2 743.7 L1796.1 731.5 L1803.1 696.5 L1810.1 684.5 L1816.8 668.6 L1823.8 651.0 L1830.8 658.5 L1837.5 644.0 L1844.5 664.4 L1851.5 643.5 L1858.4 640.7 L1865.1 638.4 L1872.1 635.6 L1878.8 632.0 L1885.8 621.1 L1892.8 615.3 L1899.5 597.9 L1906.4 611.1 L1913.4 613.9 L1920.1 625.3 L1927.1 626.6 L1934.0 642.4 L1941.1 593.1 L1947.8 619.4 L1954.8 635.0 L1961.7 643.4 L1968.4 646.2 L1975.4 651.3 L1982.1 659.6 L1988.8 683.1 L1996.0 696.5 L2003.6 680.9 L2003.6 236.3 L32.1 236.3 Z" fill="url(#gg)" clip-path="url(#abovefill)"/>


<!-- price line -->
<path d="M32.1 235.9 L37.4 232.7 L44.1 221.6 L52.6 206.4 L59.9 198.2 L67.4 207.9 L72.6 217.8 L80.3 217.4 L88.1 216.3 L96.3 229.4 L100.4 254.5 L107.9 252.2 L115.3 267.9 L122.0 270.9 L130.2 266.4 L137.7 264.9 L143.6 256.7 L149.6 262.7 L156.3 276.1 L163.0 250.0 L170.4 234.7 L176.4 250.0 L185.3 264.9 L191.3 278.3 L198.0 314.8 L204.7 294.7 L212.1 294.7 L218.8 275.3 L225.5 286.5 L232.1 331.7 L238.8 429.4 L245.5 527.2 L252.5 544.0 L259.6 603.5 L266.5 653.8 L274.1 658.0 L280.5 719.4 L287.5 761.3 L294.5 697.9 L301.5 704.1 L308.2 639.8 L314.9 723.1 L321.8 746.5 L328.8 718.0 L335.5 720.8 L342.5 763.6 L349.5 754.9 L356.2 772.5 L363.2 809.7 L369.9 747.4 L376.9 753.0 L383.9 782.3 L390.8 812.5 L397.5 820.0 L404.5 839.6 L411.2 838.2 L418.2 854.9 L424.9 811.6 L431.9 800.4 L438.9 805.5 L445.6 839.6 L452.6 813.0 L459.6 799.1 L466.3 762.7 L473.2 817.8 L480.2 808.0 L486.9 786.5 L493.9 755.8 L500.6 771.7 L507.6 738.4 L514.6 753.8 L521.3 734.8 L528.3 730.1 L535.5 712.5 L542.3 766.9 L549.1 740.9 L556.0 772.5 L563.0 770.6 L569.7 798.5 L576.7 795.7 L584.0 801.8 L590.7 771.1 L597.4 759.9 L604.4 742.3 L611.1 786.5 L617.8 776.1 L625.0 785.1 L632.0 769.7 L638.7 785.6 L645.7 770.6 L652.7 793.5 L659.4 813.9 L666.4 815.8 L673.1 820.8 L680.1 807.4 L686.8 824.2 L693.7 843.2 L700.7 786.5 L707.7 790.7 L714.4 831.2 L721.4 770.6 L728.1 769.7 L735.1 765.5 L742.1 725.0 L749.1 659.9 L756.3 680.3 L763.0 733.4 L770.3 756.6 L776.7 809.7 L783.4 794.9 L790.4 743.2 L797.4 779.5 L804.1 847.9 L810.9 823.6 L817.9 846.0 L824.9 819.4 L831.8 813.9 L838.5 783.7 L845.5 692.9 L852.2 673.9 L859.2 704.9 L865.9 703.5 L872.9 727.3 L879.9 687.3 L886.9 713.3 L893.6 692.9 L900.6 673.9 L907.3 667.2 L914.2 621.7 L921.2 597.4 L927.9 681.7 L934.9 716.6 L941.9 701.3 L948.9 704.1 L955.6 634.2 L962.6 613.3 L969.6 600.2 L976.5 596.5 L983.2 618.9 L990.2 648.2 L997.2 600.7 L1003.9 630.9 L1010.9 684.0 L1017.9 706.9 L1024.6 740.9 L1031.6 688.7 L1038.3 669.2 L1045.3 717.5 L1052.2 706.0 L1059.2 731.5 L1066.2 727.8 L1072.9 745.4 L1079.9 775.9 L1086.7 765.0 L1093.4 748.8 L1100.4 718.9 L1107.4 759.9 L1114.1 756.6 L1121.1 790.7 L1128.0 772.5 L1135.0 755.8 L1141.7 757.7 L1148.4 746.0 L1155.4 768.9 L1162.4 778.9 L1169.4 794.9 L1176.4 804.1 L1183.1 797.7 L1190.1 786.5 L1197.0 792.6 L1203.7 743.2 L1210.7 711.1 L1217.4 692.9 L1224.4 681.2 L1231.4 695.1 L1238.4 707.7 L1245.1 762.7 L1252.1 785.1 L1259.1 814.4 L1265.8 793.5 L1272.7 789.8 L1279.7 805.5 L1286.4 804.1 L1293.4 815.0 L1300.1 794.9 L1307.1 784.2 L1314.1 804.6 L1320.8 806.0 L1327.8 829.8 L1334.7 820.0 L1341.5 770.6 L1348.4 758.0 L1355.4 761.3 L1362.7 757.7 L1369.5 737.6 L1376.5 728.4 L1383.2 771.7 L1389.9 743.2 L1396.9 755.8 L1403.9 751.6 L1410.6 739.6 L1417.5 717.2 L1424.5 716.1 L1431.2 758.0 L1438.2 758.8 L1444.9 760.5 L1451.9 778.7 L1458.9 773.9 L1465.6 735.4 L1472.6 739.0 L1479.3 808.8 L1486.3 825.6 L1493.2 806.0 L1499.9 769.7 L1506.9 746.0 L1513.6 774.7 L1520.6 768.3 L1527.6 751.6 L1534.6 739.8 L1541.3 742.6 L1548.3 743.2 L1555.0 754.9 L1562.0 739.6 L1568.9 729.2 L1575.9 762.7 L1582.6 823.4 L1589.6 774.5 L1596.6 769.2 L1603.3 806.6 L1610.3 780.1 L1617.3 768.3 L1624.0 746.0 L1630.9 750.2 L1637.9 753.0 L1644.6 734.8 L1651.5 731.2 L1658.4 734.2 L1665.1 747.4 L1672.1 760.8 L1679.1 766.4 L1685.8 746.5 L1692.8 702.7 L1699.5 672.8 L1706.5 711.6 L1713.5 728.7 L1720.4 732.8 L1727.2 672.0 L1734.1 651.8 L1741.1 658.0 L1747.8 648.2 L1754.8 645.4 L1761.8 622.5 L1768.8 631.5 L1775.8 637.9 L1782.5 683.1 L1789.2 743.7 L1796.1 731.5 L1803.1 696.5 L1810.1 684.5 L1816.8 668.6 L1823.8 651.0 L1830.8 658.5 L1837.5 644.0 L1844.5 664.4 L1851.5 643.5 L1858.4 640.7 L1865.1 638.4 L1872.1 635.6 L1878.8 632.0 L1885.8 621.1 L1892.8 615.3 L1899.5 597.9 L1906.4 611.1 L1913.4 613.9 L1920.1 625.3 L1927.1 626.6 L1934.0 642.4 L1941.1 593.1 L1947.8 619.4 L1954.8 635.0 L1961.7 643.4 L1968.4 646.2 L1975.4 651.3 L1982.1 659.6 L1988.8 683.1 L1996.0 696.5 L2003.6 680.9" fill="none" stroke="#ea3943" stroke-width="5.4" stroke-linejoin="round" stroke-linecap="round" clip-path="url(#below)"/>
<path d="M32.1 235.9 L37.4 232.7 L44.1 221.6 L52.6 206.4 L59.9 198.2 L67.4 207.9 L72.6 217.8 L80.3 217.4 L88.1 216.3 L96.3 229.4 L100.4 254.5 L107.9 252.2 L115.3 267.9 L122.0 270.9 L130.2 266.4 L137.7 264.9 L143.6 256.7 L149.6 262.7 L156.3 276.1 L163.0 250.0 L170.4 234.7 L176.4 250.0 L185.3 264.9 L191.3 278.3 L198.0 314.8 L204.7 294.7 L212.1 294.7 L218.8 275.3 L225.5 286.5 L232.1 331.7 L238.8 429.4 L245.5 527.2 L252.5 544.0 L259.6 603.5 L266.5 653.8 L274.1 658.0 L280.5 719.4 L287.5 761.3 L294.5 697.9 L301.5 704.1 L308.2 639.8 L314.9 723.1 L321.8 746.5 L328.8 718.0 L335.5 720.8 L342.5 763.6 L349.5 754.9 L356.2 772.5 L363.2 809.7 L369.9 747.4 L376.9 753.0 L383.9 782.3 L390.8 812.5 L397.5 820.0 L404.5 839.6 L411.2 838.2 L418.2 854.9 L424.9 811.6 L431.9 800.4 L438.9 805.5 L445.6 839.6 L452.6 813.0 L459.6 799.1 L466.3 762.7 L473.2 817.8 L480.2 808.0 L486.9 786.5 L493.9 755.8 L500.6 771.7 L507.6 738.4 L514.6 753.8 L521.3 734.8 L528.3 730.1 L535.5 712.5 L542.3 766.9 L549.1 740.9 L556.0 772.5 L563.0 770.6 L569.7 798.5 L576.7 795.7 L584.0 801.8 L590.7 771.1 L597.4 759.9 L604.4 742.3 L611.1 786.5 L617.8 776.1 L625.0 785.1 L632.0 769.7 L638.7 785.6 L645.7 770.6 L652.7 793.5 L659.4 813.9 L666.4 815.8 L673.1 820.8 L680.1 807.4 L686.8 824.2 L693.7 843.2 L700.7 786.5 L707.7 790.7 L714.4 831.2 L721.4 770.6 L728.1 769.7 L735.1 765.5 L742.1 725.0 L749.1 659.9 L756.3 680.3 L763.0 733.4 L770.3 756.6 L776.7 809.7 L783.4 794.9 L790.4 743.2 L797.4 779.5 L804.1 847.9 L810.9 823.6 L817.9 846.0 L824.9 819.4 L831.8 813.9 L838.5 783.7 L845.5 692.9 L852.2 673.9 L859.2 704.9 L865.9 703.5 L872.9 727.3 L879.9 687.3 L886.9 713.3 L893.6 692.9 L900.6 673.9 L907.3 667.2 L914.2 621.7 L921.2 597.4 L927.9 681.7 L934.9 716.6 L941.9 701.3 L948.9 704.1 L955.6 634.2 L962.6 613.3 L969.6 600.2 L976.5 596.5 L983.2 618.9 L990.2 648.2 L997.2 600.7 L1003.9 630.9 L1010.9 684.0 L1017.9 706.9 L1024.6 740.9 L1031.6 688.7 L1038.3 669.2 L1045.3 717.5 L1052.2 706.0 L1059.2 731.5 L1066.2 727.8 L1072.9 745.4 L1079.9 775.9 L1086.7 765.0 L1093.4 748.8 L1100.4 718.9 L1107.4 759.9 L1114.1 756.6 L1121.1 790.7 L1128.0 772.5 L1135.0 755.8 L1141.7 757.7 L1148.4 746.0 L1155.4 768.9 L1162.4 778.9 L1169.4 794.9 L1176.4 804.1 L1183.1 797.7 L1190.1 786.5 L1197.0 792.6 L1203.7 743.2 L1210.7 711.1 L1217.4 692.9 L1224.4 681.2 L1231.4 695.1 L1238.4 707.7 L1245.1 762.7 L1252.1 785.1 L1259.1 814.4 L1265.8 793.5 L1272.7 789.8 L1279.7 805.5 L1286.4 804.1 L1293.4 815.0 L1300.1 794.9 L1307.1 784.2 L1314.1 804.6 L1320.8 806.0 L1327.8 829.8 L1334.7 820.0 L1341.5 770.6 L1348.4 758.0 L1355.4 761.3 L1362.7 757.7 L1369.5 737.6 L1376.5 728.4 L1383.2 771.7 L1389.9 743.2 L1396.9 755.8 L1403.9 751.6 L1410.6 739.6 L1417.5 717.2 L1424.5 716.1 L1431.2 758.0 L1438.2 758.8 L1444.9 760.5 L1451.9 778.7 L1458.9 773.9 L1465.6 735.4 L1472.6 739.0 L1479.3 808.8 L1486.3 825.6 L1493.2 806.0 L1499.9 769.7 L1506.9 746.0 L1513.6 774.7 L1520.6 768.3 L1527.6 751.6 L1534.6 739.8 L1541.3 742.6 L1548.3 743.2 L1555.0 754.9 L1562.0 739.6 L1568.9 729.2 L1575.9 762.7 L1582.6 823.4 L1589.6 774.5 L1596.6 769.2 L1603.3 806.6 L1610.3 780.1 L1617.3 768.3 L1624.0 746.0 L1630.9 750.2 L1637.9 753.0 L1644.6 734.8 L1651.5 731.2 L1658.4 734.2 L1665.1 747.4 L1672.1 760.8 L1679.1 766.4 L1685.8 746.5 L1692.8 702.7 L1699.5 672.8 L1706.5 711.6 L1713.5 728.7 L1720.4 732.8 L1727.2 672.0 L1734.1 651.8 L1741.1 658.0 L1747.8 648.2 L1754.8 645.4 L1761.8 622.5 L1768.8 631.5 L1775.8 637.9 L1782.5 683.1 L1789.2 743.7 L1796.1 731.5 L1803.1 696.5 L1810.1 684.5 L1816.8 668.6 L1823.8 651.0 L1830.8 658.5 L1837.5 644.0 L1844.5 664.4 L1851.5 643.5 L1858.4 640.7 L1865.1 638.4 L1872.1 635.6 L1878.8 632.0 L1885.8 621.1 L1892.8 615.3 L1899.5 597.9 L1906.4 611.1 L1913.4 613.9 L1920.1 625.3 L1927.1 626.6 L1934.0 642.4 L1941.1 593.1 L1947.8 619.4 L1954.8 635.0 L1961.7 643.4 L1968.4 646.2 L1975.4 651.3 L1982.1 659.6 L1988.8 683.1 L1996.0 696.5 L2003.6 680.9" fill="none" stroke="#16c784" stroke-width="5.4" stroke-linejoin="round" stroke-linecap="round" clip-path="url(#above)"/>

<!-- baseline -->
<line x1="29.05" y1="236.3" x2="2004" y2="236.3" stroke="#707070" stroke-width="2.5" stroke-dasharray="2.5 7.5"/>

<!-- baseline label -->
<rect x="34.2" y="212.6" width="107.8" height="55.6" rx="5" fill="#fff" fill-opacity="0.9"/>
<text x="44.6" y="251" style="font-family:'Liberation Sans',sans-serif;font-size:29px;fill:#5f6b83;stroke:#5f6b83;stroke-width:.5px;letter-spacing:-.75px">98.16K</text>

<!-- axis labels -->
<text x="2022" y="277.7" class="ax" style="letter-spacing:0.42px">98.00K</text>
<text x="2022" y="382.5" class="ax" style="letter-spacing:-0.66px">97.50K</text>
<text x="2022" y="484.9" class="ax" style="letter-spacing:-0.66px">97.00K</text>
<text x="2022" y="589.9" class="ax" style="letter-spacing:0.18px">96.50K</text>
<text x="2022" y="797.5" class="ax" style="letter-spacing:0.34px">95.50K</text>
<text x="2022" y="900.0" class="ax" style="letter-spacing:0.18px">95.00K</text>
<text x="108" y="1067.7" class="ax" text-anchor="middle" style="letter-spacing:0px">12:00 PM</text>
<text x="357.5" y="1067.7" class="ax" text-anchor="middle" style="letter-spacing:0.2px">3:00 PM</text>
<text x="605.2" y="1067.7" class="ax" text-anchor="middle" style="letter-spacing:0.3px">6:00 PM</text>
<text x="853.5" y="1067.7" class="ax" text-anchor="middle" style="letter-spacing:0.3px">9:00 PM</text>
<text x="1100.5" y="1067.7" class="ax" text-anchor="middle" style="letter-spacing:0px">27 Dec</text>
<text x="1349.8" y="1067.7" class="ax" text-anchor="middle" style="letter-spacing:0.75px">3:00 AM</text>
<text x="1597.6" y="1067.7" class="ax" text-anchor="middle" style="letter-spacing:0.8px">6:00 AM</text>
<text x="1846" y="1067.7" class="ax" text-anchor="middle" style="letter-spacing:0.65px">9:00 AM</text>
<text x="2038.8" y="1023" style="font-family:'Liberation Sans',sans-serif;font-size:31px;font-weight:bold;fill:#7c879b;letter-spacing:-.7px">USD</text>

<!-- current price tag -->
<rect x="2006.5" y="650" width="125.3" height="64.8" rx="5.5" fill="#ea3943"/>
<text x="2022" y="693.3" style="font-family:'Liberation Sans',sans-serif;font-size:28.7px;fill:#fff;stroke:#fff;stroke-width:.9px;letter-spacing:-.3px">96.01K</text>

<!-- watermark -->
<g fill="none" stroke="#cfd6e4" stroke-width="6" stroke-linecap="round" stroke-linejoin="round">
<path d="M1667.2 916 A26.3 26.3 0 1 1 1674.6 894.5 C1674.6 901 1667.5 903.5 1665.6 897.5 L1663.3 890.5 Q1661.7 886 1659.6 890.5 L1653.3 904.5 Q1651 909 1649.3 904 L1646.2 889.5 Q1644.8 884.5 1642.3 889 L1629.2 911.5"/>
</g>
<text x="1697.3" y="910.8" style="font-family:'Liberation Sans',sans-serif;font-size:35.5px;font-weight:bold;fill:#cfd6e4;stroke:#cfd6e4;stroke-width:.4px;stroke-linejoin:round;letter-spacing:.95px">CoinMarketCap</text>
</svg>
</body></html>
